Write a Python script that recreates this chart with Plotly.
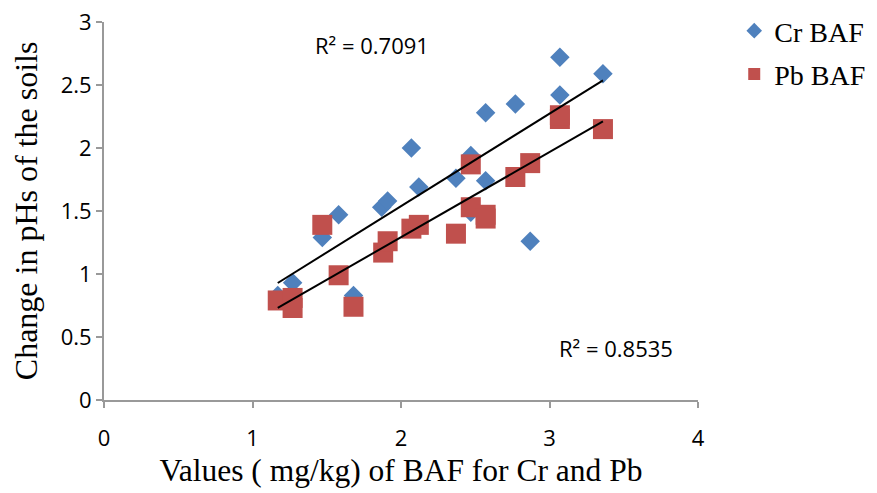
import numpy as np
import plotly.graph_objects as go

cr_x = [1.17, 1.27, 1.47, 1.58, 1.68, 1.87, 1.91, 2.07, 2.12, 2.37, 2.47, 2.47, 2.57, 2.57, 2.77, 2.87, 3.07, 3.07, 3.36]
cr_y = [0.83, 0.93, 1.29, 1.47, 0.83, 1.53, 1.58, 2.00, 1.69, 1.76, 1.94, 1.49, 2.28, 1.74, 2.35, 1.26, 2.72, 2.42, 2.59]

pb_x = [1.17, 1.27, 1.27, 1.47, 1.58, 1.68, 1.88, 1.91, 2.07, 2.12, 2.37, 2.47, 2.47, 2.57, 2.57, 2.77, 2.87, 3.07, 3.07, 3.36]
pb_y = [0.79, 0.81, 0.73, 1.39, 0.99, 0.74, 1.17, 1.26, 1.36, 1.39, 1.32, 1.53, 1.87, 1.47, 1.44, 1.77, 1.88, 2.23, 2.26, 2.15]

r2_labels = ["R² = 0.7091", "R² = 0.8535"]
x_ticks = [0, 1, 2, 3, 4]
y_ticks = [0, 0.5, 1, 1.5, 2, 2.5, 3]
y_tick_text = ["0", "0.5", "1", "1.5", "2", "2.5", "3"]
x_title = "Values ( mg/kg) of BAF for Cr and Pb"
y_title = "Change in pHs of the soils"

CR_COLOR = "#4F81BD"
PB_COLOR = "#C0504D"

fig = go.Figure()
fig.add_trace(go.Scatter(x=cr_x, y=cr_y, mode="markers", name="Cr BAF", legendgroup="cr",
                         marker=dict(symbol="diamond", size=15, color=CR_COLOR)))
fig.add_trace(go.Scatter(x=pb_x, y=pb_y, mode="markers", name="Pb BAF", legendgroup="pb",
                         marker=dict(symbol="square", size=20, color=PB_COLOR)))

for xs, ys in ((cr_x, cr_y), (pb_x, pb_y)):
    m, b = np.polyfit(xs, ys, 1)
    tx = [min(xs), max(xs)]
    fig.add_trace(go.Scatter(x=tx, y=[m * v + b for v in tx], mode="lines",
                             line=dict(color="black", width=2), showlegend=False,
                             hoverinfo="skip"))

fig.add_annotation(x=1.41, y=2.82, xref="x", yref="y", text=r2_labels[0], showarrow=False,
                   xanchor="left", font=dict(family="Open Sans", size=22, color="black"))
fig.add_annotation(x=3.05, y=0.41, xref="x", yref="y", text=r2_labels[1], showarrow=False,
                   xanchor="left", font=dict(family="Open Sans", size=22, color="black"))
fig.add_annotation(x=-0.131, y=0.5, xref="paper", yref="paper", text=y_title, showarrow=False,
                   textangle=-90, xanchor="center", yanchor="middle",
                   font=dict(family="Liberation Serif", size=32, color="black"))

axis_common = dict(showgrid=False, zeroline=False, showline=True, linecolor="#999999",
                   linewidth=2, ticks="outside", ticklen=6, tickcolor="#999999", tickwidth=2,
                   automargin=False, ticklabeloverflow="allow",
                   tickfont=dict(family="Open Sans", size=22, color="black"))

fig.update_xaxes(range=[0, 4], tickvals=x_ticks, ticklabelstandoff=12,
                 title=dict(text=x_title,
                            font=dict(family="Liberation Serif", size=31.5, color="black"),
                            standoff=8),
                 **axis_common)
fig.update_yaxes(range=[0, 3], tickvals=y_ticks, ticktext=y_tick_text,
                 ticklabelstandoff=0, **axis_common)

fig.update_layout(
    width=869, height=485,
    margin=dict(l=96, r=179, t=14, b=93, autoexpand=False),
    plot_bgcolor="white", paper_bgcolor="white",
    legend=dict(x=1.061, y=1.0425, xanchor="left", yanchor="top",
                font=dict(family="Liberation Serif", size=28, color="black"),
                itemsizing="constant", tracegroupgap=4),
)

fig.write_html("out.html")
